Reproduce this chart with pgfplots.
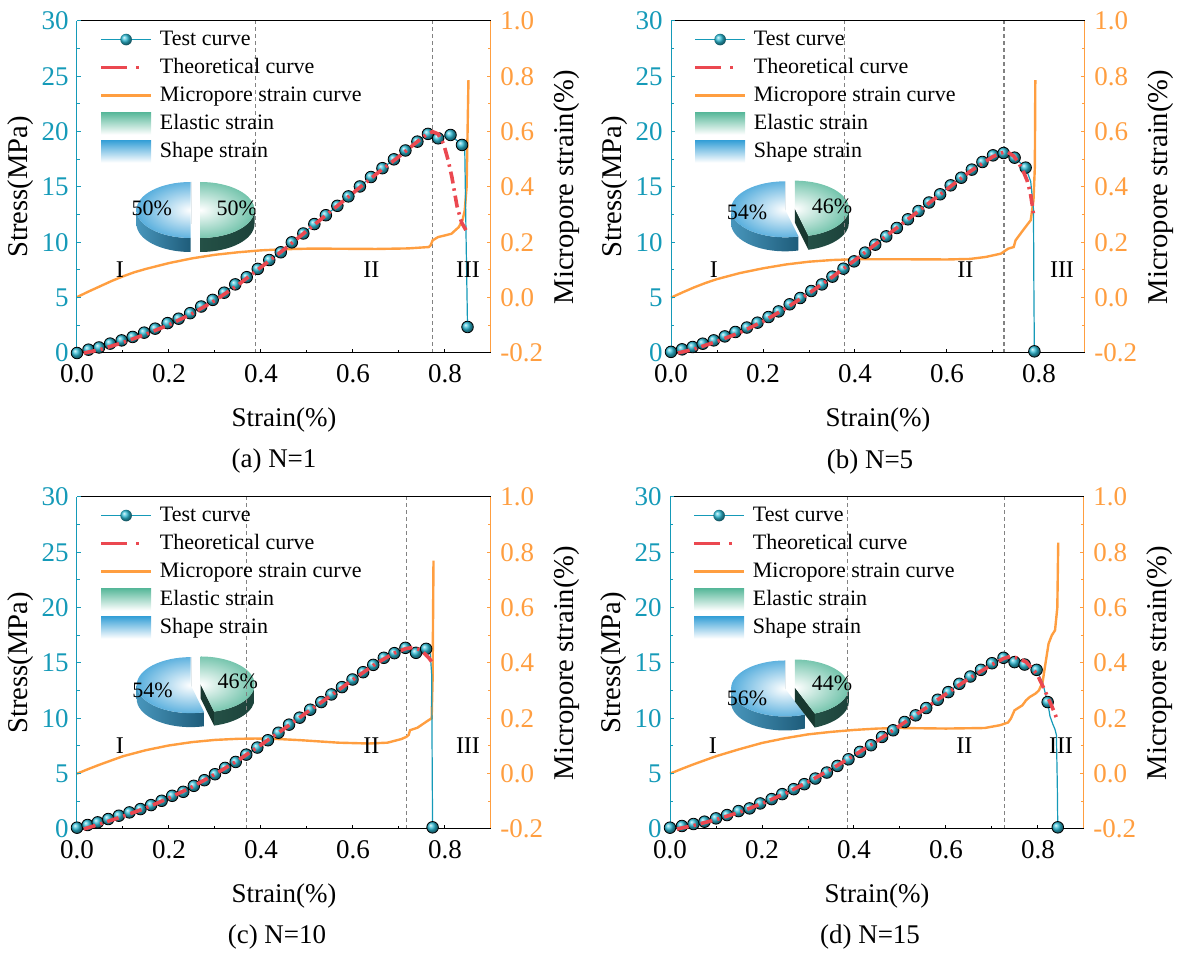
\documentclass[border=0pt]{standalone}
\usepackage{fontspec}
\setmainfont{Liberation Serif}
\usepackage{pgfplots}
\pgfplotsset{compat=1.18}
\definecolor{tealc}{RGB}{21,154,184}
\definecolor{ballc}{RGB}{45,188,214}
\definecolor{orangec}{RGB}{255,158,64}
\definecolor{redc}{RGB}{235,72,80}
\definecolor{grayc}{RGB}{130,130,130}
\definecolor{legendgreen}{RGB}{88,184,154}
\definecolor{legendblue}{RGB}{55,160,215}
\definecolor{topblue}{RGB}{62,162,216}
\definecolor{sideLblue}{RGB}{72,150,188}
\definecolor{sideRblue}{RGB}{30,92,122}
\definecolor{wallblue}{RGB}{30,80,105}
\definecolor{topgreen}{RGB}{92,186,158}
\definecolor{sideLgreen}{RGB}{36,80,70}
\definecolor{sideRgreen}{RGB}{28,66,58}
\definecolor{wallgreen}{RGB}{24,56,48}

\newcommand{\bigfont}{\fontsize{13.5pt}{16pt}\selectfont}
\newcommand{\ylabfont}{\fontsize{14.3pt}{17pt}\selectfont}
\newcommand{\midfont}{\fontsize{11pt}{13pt}\selectfont}

% #1 cx #2 cy #3 start #4 end #5 side start #6 side end #7 kind
\newcommand{\pieslice}[7]{%
  \pgfmathsetmacro\bis{(#3+#4)/2}%
  \pgfmathsetmacro\ox{#1+2.5*cos(\bis)}%
  \pgfmathsetmacro\oy{#2+2.5*(14/27)*sin(\bis)}%
  \begin{scope}[shift={(\ox pt,\oy pt)}]
    \fill[wall#7] (0,0) -- (#3:27pt and 14pt) -- ++(0,-7pt) -- (0,-7pt) -- cycle;
    \shade[left color=sideL#7, right color=sideR#7] (#5:27pt and 14pt) arc[start angle=#5, end angle=#6, x radius=27pt, y radius=14pt] -- ++(0,-7pt) arc[start angle=#6, end angle=#5, x radius=27pt, y radius=14pt] -- cycle;
    \begin{scope}
      \clip (0,0) -- (#3:27pt and 14pt) arc[start angle=#3, end angle=#4, x radius=27pt, y radius=14pt] -- cycle;
      \shade[inner color=white, outer color=top#7] (0,0) ellipse (31pt and 17pt);
    \end{scope}
  \end{scope}}

\pgfplotsset{
  rightax/.style={
    every non boxed x axis/.style={}, every non boxed y axis/.style={},
    scale only axis, width=207pt, height=166pt,
    xmin=0, xmax=0.9, ymin=-0.2, ymax=1.0,
    axis x line*=top, axis y line*=right,
    xtick=\empty,
    x axis line style={-, black, line width=0.5pt},
    y axis line style={-, draw=orangec, line width=0.5pt},
    tick align=inside,
    ytick={-0.2,0,0.2,0.4,0.6,0.8,1.0}, minor y tick num=1,
    major tick length=2.2pt, minor tick length=1.5pt,
    ytick style={orangec, line width=0.5pt},
    /pgf/number format/assume math mode=true,
    tick label style={font=\bigfont},
    y tick label style={orangec, inner sep=0pt, xshift=4.5pt, /pgf/number format/fixed, /pgf/number format/fixed zerofill, /pgf/number format/precision=1},
    ylabel={Micropore strain(\%)},
    label style={font=\ylabfont},
    ylabel style={at={(axis description cs:1.183,0.5)}, anchor=center},
    clip=false,
  },
  leftax/.style={
    every non boxed x axis/.style={}, every non boxed y axis/.style={},
    scale only axis, width=207pt, height=166pt,
    xmin=0, xmax=0.9, ymin=0, ymax=30,
    axis x line*=bottom, axis y line*=left,
    x axis line style={-, black, line width=0.5pt},
    y axis line style={-, draw=tealc, line width=0.5pt},
    tick align=inside,
    xtick={0,0.2,0.4,0.6,0.8}, minor x tick num=1,
    ytick={0,5,10,15,20,25,30}, minor y tick num=1,
    major tick length=2.2pt, minor tick length=1.5pt,
    xtick style={black, line width=0.5pt},
    ytick style={tealc, line width=0.5pt},
    /pgf/number format/assume math mode=true,
    tick label style={font=\bigfont},
    x tick label style={inner sep=0pt, yshift=-5.5pt, /pgf/number format/fixed, /pgf/number format/fixed zerofill, /pgf/number format/precision=1},
    y tick label style={tealc, inner sep=0pt, xshift=-4pt},
    xlabel={Strain(\%)}, ylabel={Stress(MPa)},
    xlabel style={font=\bigfont, at={(axis description cs:0.5,0)}, anchor=center, yshift=-33.5pt},
    ylabel style={font=\ylabfont, at={(axis description cs:-0.135,0.5)}, anchor=center},
    clip=false, clip marker paths=true,
    legend style={at={(axis description cs:0.053,0.98)}, anchor=north west, draw=none, fill=none,
      inner sep=0pt, font=\midfont, row sep=2.5pt, column sep=3pt,
      nodes={inner sep=0.5pt, text height=8pt, text depth=2.5pt}},
    legend cell align=left,
  },
  testline/.style={tealc, line width=0.6pt, forget plot},
  testmarks/.style={only marks, mark=ball, mark size=2.9pt, mark options={ball color=ballc}, forget plot},
  theory/.style={redc, line width=1.8pt, dash pattern=on 6pt off 2.5pt on 1.2pt off 2.5pt, forget plot},
  micro/.style={orangec, line width=1.2pt, forget plot},
  vdash/.style={grayc, line width=0.55pt, dash pattern=on 2pt off 1.5pt, forget plot},
}

\newcommand{\legendentries}{%
  \addlegendimage{legend image code/.code={\draw[tealc,line width=0.6pt] (0pt,0pt) -- (25pt,0pt); \shade[ball color=ballc, draw=none] (12.5pt,0pt) circle (2.9pt);}}
  \addlegendentry{Test curve}
  \addlegendimage{legend image code/.code={\draw[redc,line width=1.8pt, dash pattern=on 13pt off 4.5pt on 1.5pt off 10pt] (0pt,0pt) -- (25pt,0pt);}}
  \addlegendentry{Theoretical curve}
  \addlegendimage{legend image code/.code={\draw[orangec,line width=1.2pt] (0pt,0pt) -- (25pt,0pt);}}
  \addlegendentry{Micropore strain curve}
  \addlegendimage{legend image code/.code={\path[draw=none, top color=legendgreen, bottom color=white] (0pt,-5.5pt) rectangle (25pt,5.5pt);}}
  \addlegendentry{Elastic strain}
  \addlegendimage{legend image code/.code={\path[draw=none, top color=legendblue, bottom color=white] (0pt,-5.5pt) rectangle (25pt,5.5pt);}}
  \addlegendentry{Shape strain}}

\newcommand{\regionlabels}{%
  \node[font=\fontsize{12pt}{14pt}\selectfont] at (axis cs:0.093,7.5) {I};
  \node[font=\fontsize{12pt}{14pt}\selectfont] at (axis cs:0.64,7.5) {II};
  \node[font=\fontsize{12pt}{14pt}\selectfont] at (axis cs:0.85,7.5) {III};}

\begin{document}
\begin{tikzpicture}
\useasboundingbox (0,0) rectangle (590pt,480pt);

% ---------- pies ----------
% (a)
\pieslice{97.75}{375}{90}{270}{180}{270}{blue}
\pieslice{97.75}{375}{-90}{90}{-90}{0}{green}
\node[font=\midfont] at (75.85pt,376pt) {50\%};
\node[font=\midfont] at (118.35pt,375.9pt) {50\%};
% (b)
\pieslice{395}{375.5}{90}{284.4}{180}{284.4}{blue}
\pieslice{395}{375.5}{-75.6}{90}{-75.6}{0}{green}
\node[font=\midfont] at (373.5pt,374pt) {54\%};
\node[font=\midfont] at (416pt,377pt) {46\%};
% (c)
\pieslice{97.85}{137.6}{90}{284.4}{180}{284.4}{blue}
\pieslice{97.85}{137.6}{-75.6}{90}{-75.6}{0}{green}
\node[font=\midfont] at (76.3pt,134.6pt) {54\%};
\node[font=\midfont] at (118.85pt,139.1pt) {46\%};
% (d)
\pieslice{395}{136}{90}{291.6}{180}{291.6}{blue}
\pieslice{395}{136}{-68.4}{90}{-68.4}{0}{green}
\node[font=\midfont] at (373.5pt,131pt) {56\%};
\node[font=\midfont] at (416pt,138.2pt) {44\%};

% ================= (a) N=1 =================
\begin{axis}[rightax, at={(38.5pt,303.5pt)}, anchor=south west]
\addplot[vdash] coordinates {(0.388,-0.2) (0.388,1.0)};
\addplot[vdash] coordinates {(0.773,-0.2) (0.773,1.0)};
\addplot[micro] coordinates {(0,0.002) (0.025,0.022) (0.05,0.041) (0.075,0.06) (0.1,0.077) (0.125,0.092) (0.15,0.104) (0.2,0.125) (0.25,0.142) (0.3,0.155) (0.35,0.164) (0.4,0.171) (0.45,0.175) (0.5,0.177) (0.55,0.177) (0.65,0.176) (0.72,0.178) (0.765,0.183) (0.769,0.19) (0.773,0.207) (0.785,0.219) (0.8,0.225) (0.814,0.231) (0.83,0.255) (0.838,0.28) (0.843,0.316) (0.847,0.4) (0.849,0.593) (0.851,0.786)};
\end{axis}
\begin{axis}[leftax, at={(38.5pt,303.5pt)}, anchor=south west]
\legendentries
\addplot[testline] coordinates {(0,0) (0.025,0.3) (0.048,0.5) (0.072,0.85) (0.097,1.14) (0.121,1.45) (0.146,1.84) (0.170,2.2) (0.197,2.7) (0.221,3.1) (0.246,3.6) (0.270,4.2) (0.295,4.8) (0.320,5.45) (0.344,6.2) (0.369,6.85) (0.393,7.6) (0.418,8.4) (0.443,9.1) (0.467,10.0) (0.492,10.8) (0.516,11.65) (0.541,12.45) (0.566,13.3) (0.590,14.15) (0.615,15.05) (0.639,15.9) (0.664,16.7) (0.689,17.5) (0.714,18.3) (0.740,19.1) (0.763,19.8) (0.785,19.4) (0.812,19.7) (0.837,18.8) (0.843,18.3) (0.846,10) (0.849,2.35)};
\addplot[testmarks] coordinates {(0,0) (0.025,0.3) (0.048,0.5) (0.072,0.85) (0.097,1.14) (0.121,1.45) (0.146,1.84) (0.170,2.2) (0.197,2.7) (0.221,3.1) (0.246,3.6) (0.270,4.2) (0.295,4.8) (0.320,5.45) (0.344,6.2) (0.369,6.85) (0.393,7.6) (0.418,8.4) (0.443,9.1) (0.467,10.0) (0.492,10.8) (0.516,11.65) (0.541,12.45) (0.566,13.3) (0.590,14.15) (0.615,15.05) (0.639,15.9) (0.664,16.7) (0.689,17.5) (0.714,18.3) (0.740,19.1) (0.763,19.8) (0.785,19.4) (0.812,19.7) (0.837,18.8) (0.849,2.35)};
\addplot[theory] coordinates {(0.015,0) (0.05,0.3) (0.1,0.95) (0.15,1.7) (0.2,2.55) (0.25,3.55) (0.3,4.75) (0.35,6.15) (0.4,7.75) (0.45,9.35) (0.5,11.05) (0.55,12.75) (0.6,14.45) (0.65,16.15) (0.7,17.75) (0.74,19.1) (0.76,19.75) (0.773,20.0) (0.785,19.8) (0.797,18.9) (0.807,17.4) (0.815,15.9) (0.826,13.3) (0.836,11.8) (0.847,11.0)};
\regionlabels
\end{axis}
\node[font=\bigfont] at (137pt,249.5pt) {(a) N=1};

% ================= (b) N=5 =================
\begin{axis}[rightax, at={(335.5pt,303.5pt)}, anchor=south west]
\addplot[vdash] coordinates {(0.378,-0.2) (0.378,1.0)};
\addplot[vdash] coordinates {(0.724,-0.2) (0.724,1.0)};
\addplot[micro] coordinates {(0,0.0) (0.025,0.019) (0.05,0.037) (0.075,0.053) (0.1,0.067) (0.15,0.089) (0.2,0.106) (0.25,0.12) (0.3,0.13) (0.35,0.136) (0.4,0.139) (0.48,0.139) (0.6,0.138) (0.65,0.14) (0.684,0.147) (0.717,0.159) (0.733,0.177) (0.745,0.183) (0.749,0.207) (0.765,0.243) (0.782,0.28) (0.788,0.352) (0.791,0.472) (0.792,0.786)};
\end{axis}
\begin{axis}[leftax, at={(335.5pt,303.5pt)}, anchor=south west]
\legendentries
\addplot[testline] coordinates {(0,0.1) (0.024,0.33) (0.047,0.54) (0.069,0.84) (0.093,1.14) (0.117,1.5) (0.14,1.9) (0.165,2.3) (0.188,2.74) (0.212,3.25) (0.234,3.76) (0.258,4.4) (0.281,4.97) (0.305,5.6) (0.328,6.2) (0.351,6.9) (0.375,7.62) (0.398,8.28) (0.422,9.07) (0.444,9.79) (0.468,10.54) (0.491,11.3) (0.515,12.08) (0.538,12.83) (0.561,13.6) (0.585,14.34) (0.608,15.15) (0.631,15.84) (0.654,16.57) (0.677,17.26) (0.700,17.86) (0.723,18.07) (0.747,17.65) (0.771,16.75) (0.782,15.5) (0.788,13) (0.789,5) (0.790,0.15)};
\addplot[testmarks] coordinates {(0,0.1) (0.024,0.33) (0.047,0.54) (0.069,0.84) (0.093,1.14) (0.117,1.5) (0.14,1.9) (0.165,2.3) (0.188,2.74) (0.212,3.25) (0.234,3.76) (0.258,4.4) (0.281,4.97) (0.305,5.6) (0.328,6.2) (0.351,6.9) (0.375,7.62) (0.398,8.28) (0.422,9.07) (0.444,9.79) (0.468,10.54) (0.491,11.3) (0.515,12.08) (0.538,12.83) (0.561,13.6) (0.585,14.34) (0.608,15.15) (0.631,15.84) (0.654,16.57) (0.677,17.26) (0.700,17.86) (0.723,18.07) (0.747,17.65) (0.771,16.75) (0.790,0.15)};
\addplot[theory] coordinates {(0.015,0) (0.05,0.35) (0.1,1.05) (0.15,1.85) (0.2,2.85) (0.25,4.05) (0.3,5.4) (0.35,6.85) (0.4,8.4) (0.45,10.0) (0.5,11.6) (0.55,13.2) (0.6,14.8) (0.65,16.4) (0.7,17.75) (0.72,18.1) (0.73,18.2) (0.745,17.8) (0.757,17.1) (0.767,16.3) (0.774,15.6) (0.781,14.5) (0.786,13.2) (0.788,12.5)};
\regionlabels
\end{axis}
\node[font=\bigfont] at (435pt,249pt) {(b) N=5};

% ================= (c) N=10 =================
\begin{axis}[rightax, at={(38.5pt,65.5pt)}, anchor=south west]
\addplot[vdash] coordinates {(0.368,-0.2) (0.368,1.0)};
\addplot[vdash] coordinates {(0.716,-0.2) (0.716,1.0)};
\addplot[micro] coordinates {(0,0.0) (0.025,0.017) (0.05,0.033) (0.075,0.048) (0.1,0.063) (0.15,0.085) (0.2,0.102) (0.25,0.114) (0.3,0.122) (0.35,0.126) (0.388,0.127) (0.44,0.125) (0.486,0.121) (0.568,0.112) (0.634,0.109) (0.675,0.112) (0.705,0.125) (0.716,0.133) (0.721,0.14) (0.724,0.157) (0.74,0.166) (0.765,0.194) (0.771,0.2) (0.773,0.337) (0.775,0.77)};
\end{axis}
\begin{axis}[leftax, at={(38.5pt,65.5pt)}, anchor=south west]
\legendentries
\addplot[testline] coordinates {(0,0.12) (0.023,0.36) (0.045,0.6) (0.068,0.9) (0.091,1.2) (0.114,1.5) (0.138,1.8) (0.161,2.16) (0.184,2.55) (0.207,3.0) (0.231,3.36) (0.254,3.9) (0.277,4.41) (0.3,4.95) (0.322,5.52) (0.345,6.06) (0.368,6.72) (0.392,7.36) (0.415,8.02) (0.438,8.7) (0.461,9.43) (0.484,10.06) (0.507,10.78) (0.531,11.47) (0.553,12.16) (0.576,12.82) (0.599,13.51) (0.622,14.17) (0.644,14.83) (0.667,15.47) (0.69,15.89) (0.714,16.37) (0.737,15.92) (0.759,16.28) (0.768,15.8) (0.771,14) (0.772,7) (0.773,0.15)};
\addplot[testmarks] coordinates {(0,0.12) (0.023,0.36) (0.045,0.6) (0.068,0.9) (0.091,1.2) (0.114,1.5) (0.138,1.8) (0.161,2.16) (0.184,2.55) (0.207,3.0) (0.231,3.36) (0.254,3.9) (0.277,4.41) (0.3,4.95) (0.322,5.52) (0.345,6.06) (0.368,6.72) (0.392,7.36) (0.415,8.02) (0.438,8.7) (0.461,9.43) (0.484,10.06) (0.507,10.78) (0.531,11.47) (0.553,12.16) (0.576,12.82) (0.599,13.51) (0.622,14.17) (0.644,14.83) (0.667,15.47) (0.69,15.89) (0.714,16.37) (0.737,15.92) (0.759,16.28) (0.773,0.15)};
\addplot[theory] coordinates {(0.015,0) (0.05,0.45) (0.1,1.15) (0.15,1.9) (0.2,2.8) (0.25,3.8) (0.3,4.95) (0.35,6.2) (0.4,7.6) (0.45,9.05) (0.5,10.55) (0.55,12.0) (0.6,13.5) (0.65,14.95) (0.69,15.9) (0.715,16.3) (0.73,16.4) (0.745,16.2) (0.757,15.8) (0.766,15.4) (0.773,15.0)};
\regionlabels
\end{axis}
\node[font=\bigfont] at (138.5pt,11.7pt) {(c) N=10};

% ================= (d) N=15 =================
\begin{axis}[rightax, at={(335pt,65.5pt)}, anchor=south west]
\addplot[vdash] coordinates {(0.386,-0.2) (0.386,1.0)};
\addplot[vdash] coordinates {(0.728,-0.2) (0.728,1.0)};
\addplot[micro] coordinates {(0,0.0) (0.025,0.017) (0.05,0.033) (0.075,0.048) (0.1,0.063) (0.15,0.088) (0.2,0.111) (0.25,0.128) (0.3,0.142) (0.35,0.151) (0.4,0.158) (0.45,0.163) (0.5,0.165) (0.6,0.163) (0.684,0.165) (0.717,0.175) (0.735,0.185) (0.741,0.199) (0.749,0.229) (0.766,0.247) (0.774,0.265) (0.782,0.277) (0.795,0.29) (0.802,0.301) (0.81,0.331) (0.815,0.385) (0.823,0.47) (0.83,0.5) (0.837,0.518) (0.842,0.6) (0.844,0.835)};
\end{axis}
\begin{axis}[leftax, at={(335pt,65.5pt)}, anchor=south west]
\legendentries
\addplot[testline] coordinates {(0,0.12) (0.026,0.27) (0.051,0.45) (0.075,0.66) (0.1,0.96) (0.124,1.26) (0.149,1.62) (0.173,1.86) (0.196,2.31) (0.221,2.7) (0.244,3.15) (0.269,3.6) (0.292,4.05) (0.316,4.56) (0.341,5.1) (0.364,5.7) (0.388,6.3) (0.413,6.97) (0.437,7.57) (0.461,8.32) (0.485,8.92) (0.51,9.67) (0.534,10.27) (0.557,10.93) (0.582,11.68) (0.605,12.37) (0.629,13.12) (0.653,13.78) (0.676,14.38) (0.7,14.98) (0.725,15.47) (0.749,15.08) (0.771,14.86) (0.797,14.38) (0.81,13.2) (0.821,11.47) (0.826,10.2) (0.832,9.5) (0.837,9.0) (0.84,8.5) (0.842,4) (0.843,0.15)};
\addplot[testmarks] coordinates {(0,0.12) (0.026,0.27) (0.051,0.45) (0.075,0.66) (0.1,0.96) (0.124,1.26) (0.149,1.62) (0.173,1.86) (0.196,2.31) (0.221,2.7) (0.244,3.15) (0.269,3.6) (0.292,4.05) (0.316,4.56) (0.341,5.1) (0.364,5.7) (0.388,6.3) (0.413,6.97) (0.437,7.57) (0.461,8.32) (0.485,8.92) (0.51,9.67) (0.534,10.27) (0.557,10.93) (0.582,11.68) (0.605,12.37) (0.629,13.12) (0.653,13.78) (0.676,14.38) (0.7,14.98) (0.725,15.47) (0.749,15.08) (0.771,14.86) (0.797,14.38) (0.821,11.47) (0.843,0.15)};
\addplot[theory] coordinates {(0.015,0) (0.05,0.3) (0.1,0.85) (0.15,1.5) (0.2,2.3) (0.25,3.2) (0.3,4.25) (0.35,5.4) (0.4,6.65) (0.45,7.95) (0.5,9.35) (0.55,10.75) (0.6,12.2) (0.65,13.6) (0.7,14.85) (0.725,15.4) (0.74,15.6) (0.755,15.45) (0.774,15.1) (0.798,14.0) (0.815,12.5) (0.831,11.0) (0.843,9.76)};
\regionlabels
\end{axis}
\node[font=\bigfont] at (435pt,11.7pt) {(d) N=15};
\end{tikzpicture}
\end{document}
